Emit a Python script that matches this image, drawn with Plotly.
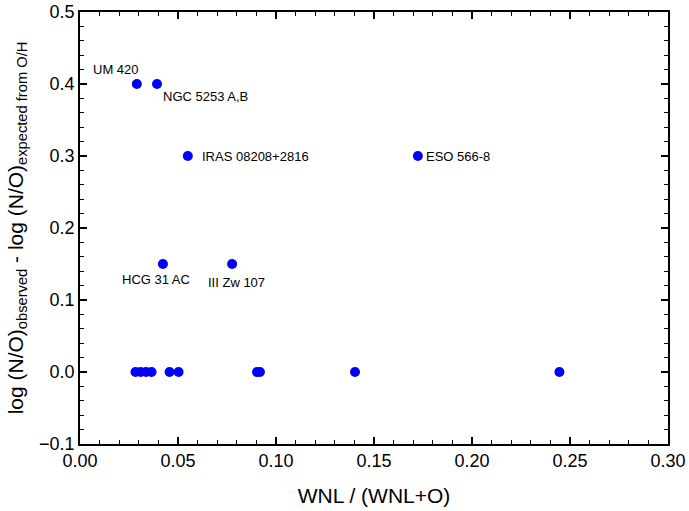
import plotly.graph_objects as go

# Labelled galaxies
lab_names = ["UM 420", "NGC 5253 A,B", "IRAS 08208+2816", "ESO 566-8", "HCG 31 AC", "III Zw 107"]
lab_x = [0.029, 0.0393, 0.055, 0.1724, 0.0423, 0.0776]
lab_y = [0.40, 0.40, 0.30, 0.30, 0.15, 0.15]

# Unlabelled galaxies at zero offset
zero_x = [0.0283, 0.0309, 0.0337, 0.0365, 0.0457, 0.0503, 0.0903, 0.0918, 0.1403, 0.2446]
zero_y = [0.0, 0.0, 0.0, 0.0, 0.0, 0.0, 0.0, 0.0, 0.0, 0.0]

# Axis settings
x_range = [0, 0.30]
y_range = [-0.1, 0.5]

# label placement (anchor, shifts in px)
lab_xanchor = ["right", "left", "left", "left", "center", "center"]
lab_yanchor = ["bottom", "top", "middle", "middle", "top", "top"]
lab_xshift = [4, 4, 12, 6, -7, 4]
lab_yshift = [5, -3, 0, 0, -6, -9]

fig = go.Figure()
fig.add_trace(go.Scatter(x=zero_x + lab_x, y=zero_y + lab_y, mode="markers",
                         marker=dict(color="#0000ff", size=10, line=dict(width=0)),
                         showlegend=False, hoverinfo="x+y"))
# invisible trace so the mirrored frame axes (top/right) are drawn
fig.add_trace(go.Scatter(x=lab_x, y=lab_y, xaxis="x2", yaxis="y2", mode="markers",
                         marker=dict(opacity=0), showlegend=False, hoverinfo="skip"))

for n, x, y, xa, ya, xs, ys in zip(lab_names, lab_x, lab_y, lab_xanchor, lab_yanchor, lab_xshift, lab_yshift):
    fig.add_annotation(x=x, y=y, text=n, showarrow=False, xanchor=xa, yanchor=ya,
                       xshift=xs, yshift=ys, font=dict(size=13, color="black"))

axis_common = dict(showline=True, linecolor="black", linewidth=1.5,
                   ticks="inside", ticklen=7, tickwidth=1.5, tickcolor="black",
                   showgrid=False, zeroline=False, automargin=False,
                   ticklabeloverflow="allow",
                   tickfont=dict(size=18, color="black"))
x_minor = dict(ticks="inside", dtick=0.01, ticklen=4, tickwidth=1.2, tickcolor="black")
y_minor = dict(ticks="inside", dtick=0.02, ticklen=4, tickwidth=1.2, tickcolor="black")

fig.update_layout(
    xaxis=dict(range=x_range, dtick=0.05, tickformat=".2f", minor=x_minor,
               title=dict(text="WNL / (WNL+O)", font=dict(size=21, color="black"), standoff=18),
               **axis_common),
    yaxis=dict(range=y_range, dtick=0.1, tickformat=".1f", minor=y_minor,
               title=dict(text="log (N/O)<sub>observed</sub> - log (N/O)<sub>expected from O/H</sub>",
                          font=dict(size=21, color="black"), standoff=10),
               **axis_common),
    xaxis2=dict(range=x_range, dtick=0.05, minor=x_minor, overlaying="x", side="top",
                anchor="y", showticklabels=False, **axis_common),
    yaxis2=dict(range=y_range, dtick=0.1, minor=y_minor, overlaying="y", side="right",
                anchor="x", showticklabels=False, **axis_common),
    width=689, height=511, margin=dict(l=80, r=21, t=12, b=67),
    paper_bgcolor="white", plot_bgcolor="white",
    font=dict(family="Liberation Sans, Arial, sans-serif", color="black"))

fig.write_html("out.html", config={"displayModeBar": False},
               post_script="document.body.style.margin='0';")
